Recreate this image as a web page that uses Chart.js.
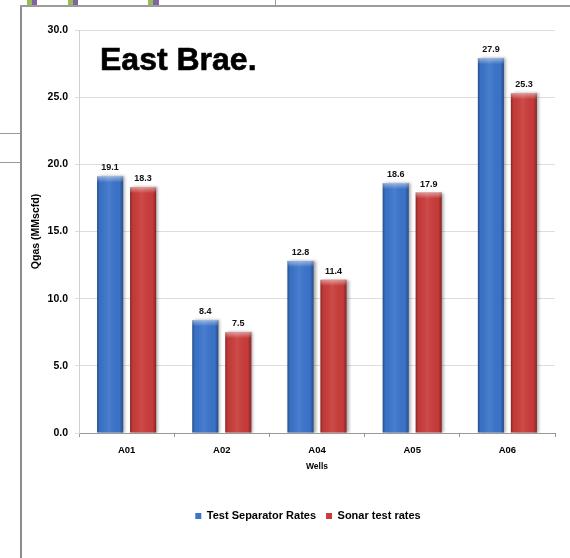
<!DOCTYPE html>
<html>
<head>
<meta charset="utf-8">
<script src="https://cdn.jsdelivr.net/npm/chart.js@4/dist/chart.umd.min.js"></script>
<style>
  html, body { margin: 0; padding: 0; width: 570px; height: 558px; overflow: hidden; background: #fff; }
  .ln { position: absolute; background: #9a9a9a; }
  .chip { position: absolute; top: 0; height: 5px; }
  #chart { position: absolute; left: 0; top: 0; }
</style>
</head>
<body>
<!-- slide frame around the chart -->
<div class="ln" style="left:20px;top:6px;width:2px;height:560px;background:#8c8c8c"></div>
<div class="ln" style="left:20px;top:5px;width:560px;height:2px;background:#9c9c9c"></div>
<div class="ln" style="left:0;top:133px;width:21px;height:1px"></div>
<div class="ln" style="left:0;top:162px;width:21px;height:1px"></div>
<div class="ln" style="left:275px;top:0;width:1px;height:6px"></div>
<div class="chip" style="left:27px;width:5px;background:#9bbb59"></div>
<div class="chip" style="left:32px;width:5px;background:#8064a2"></div>
<div class="chip" style="left:68px;width:5px;background:#9bbb59"></div>
<div class="chip" style="left:73px;width:5px;background:#8064a2"></div>
<div class="chip" style="left:148px;width:5px;background:#9bbb59"></div>
<div class="chip" style="left:153px;width:6px;background:#8064a2"></div>

<canvas id="chart" width="594" height="558"></canvas>

<script>
// Gas rates per well (MMscfd)
const wells = ['A01', 'A02', 'A04', 'A05', 'A06'];
const seriesNames = ['Test Separator Rates', 'Sonar test rates'];
const separatorRates = [19.1, 8.4, 12.8, 18.6, 27.9];
const sonarRates = [18.3, 7.5, 11.4, 17.9, 25.3];
const yMin = 0, yMax = 30, yStep = 5;
const chartTitle = 'East Brae.';
const xTitle = 'Wells';
const yTitle = 'Qgas (MMscfd)';

const FONT = '"Liberation Sans", Arial, sans-serif';
const BLUE = '#3b74cb';
const RED = '#c93c3a';

// Soft drop shadow behind the bars
const barShadow = {
  id: 'barShadow',
  beforeDatasetsDraw(chart) {
    const c = chart.ctx;
    c.save();
    c.shadowColor = 'rgba(0,0,0,0.35)';
    c.shadowBlur = 3;
    c.shadowOffsetX = 2;
    c.shadowOffsetY = 0;
  },
  afterDatasetsDraw(chart) {
    chart.ctx.restore();
  }
};

// Cylinder-like shading over each bar, plus value labels
const barFinish = {
  id: 'barFinish',
  afterDatasetsDraw(chart) {
    const c = chart.ctx;
    chart.data.datasets.forEach((ds, di) => {
      const meta = chart.getDatasetMeta(di);
      meta.data.forEach((bar, i) => {
        const w = bar.width, left = bar.x - w / 2, top = bar.y, h = bar.base - bar.y;
        c.save();
        const g = c.createLinearGradient(left, 0, left + w, 0);
        g.addColorStop(0, 'rgba(0,0,0,0.34)');
        g.addColorStop(0.1, 'rgba(0,0,0,0.04)');
        g.addColorStop(0.45, 'rgba(255,255,255,0.08)');
        g.addColorStop(0.86, 'rgba(0,0,0,0.02)');
        g.addColorStop(1, 'rgba(0,0,0,0.34)');
        c.fillStyle = g;
        c.fillRect(left, top, w, h);
        const cap = c.createLinearGradient(0, top, 0, top + 6);
        cap.addColorStop(0, 'rgba(255,255,255,0.45)');
        cap.addColorStop(1, 'rgba(255,255,255,0)');
        c.fillStyle = cap;
        c.fillRect(left, top, w, 6);
        c.restore();

        c.save();
        c.font = 'bold 9px ' + FONT;
        c.fillStyle = '#111';
        c.textAlign = 'center';
        c.textBaseline = 'alphabetic';
        c.fillText(ds.data[i].toFixed(1), bar.x, bar.y - 6);
        c.restore();
      });
    });
  }
};

// Chart heading placed inside the plot area
const heading = {
  id: 'heading',
  afterDraw(chart) {
    const c = chart.ctx, a = chart.chartArea;
    c.save();
    c.font = 'bold 32px ' + FONT;
    c.fillStyle = '#000';
    c.strokeStyle = '#000';
    c.lineWidth = 0.6;
    c.textAlign = 'left';
    c.textBaseline = 'alphabetic';
    c.fillText(chartTitle, a.left + 21, a.top + 39.5);
    c.strokeText(chartTitle, a.left + 21, a.top + 39.5);
    c.restore();
  }
};

new Chart(document.getElementById('chart'), {
  type: 'bar',
  data: {
    labels: wells,
    datasets: [
      { label: seriesNames[0], data: separatorRates, backgroundColor: BLUE, borderWidth: 0 },
      { label: seriesNames[1], data: sonarRates, backgroundColor: RED, borderWidth: 0 }
    ]
  },
  options: {
    responsive: false,
    animation: false,
    devicePixelRatio: 1,
    layout: { padding: { left: 22, top: 30, right: 0, bottom: 26.5 } },
    datasets: { bar: { categoryPercentage: 0.693, barPercentage: 0.79 } },
    plugins: {
      legend: {
        position: 'bottom',
        labels: {
          boxWidth: 6, boxHeight: 6, padding: 10,
          color: '#000',
          font: { family: FONT, size: 11, weight: 'bold' }
        }
      },
      tooltip: { enabled: false },
      title: { display: false }
    },
    scales: {
      x: {
        grid: { display: true, drawOnChartArea: false, drawTicks: true, tickLength: 4, color: '#999', offset: true },
        border: { color: '#999', width: 1 },
        ticks: { color: '#000', padding: 8, font: { family: FONT, size: 9.5, weight: 'bold' } },
        title: { display: true, text: xTitle, color: '#000', padding: { top: 0, bottom: 29.2 },
                 font: { family: FONT, size: 8.5, weight: 'bold' } },
        afterFit(s) { s.height = 67.5; }
      },
      y: {
        min: yMin, max: yMax,
        grid: { color: '#dedede', tickLength: 4, drawTicks: true },
        border: { color: '#d0d0d0', width: 1 },
        ticks: { stepSize: yStep, padding: 7, color: '#000',
                 font: { family: FONT, size: 10.5, weight: 'bold' },
                 callback: v => Number(v).toFixed(1) },
        title: { display: true, text: yTitle, color: '#000', padding: { top: 7.5, bottom: 0 },
                 font: { family: FONT, size: 10.5, weight: 'bold' } },
        afterFit(s) { s.width = 57; }
      },
      pad: {
        type: 'linear', position: 'right', display: true,
        grid: { display: false }, border: { display: false }, ticks: { display: false },
        afterFit(s) { s.width = 39; }
      }
    }
  },
  plugins: [barShadow, barFinish, heading]
});
</script>
</body>
</html>
